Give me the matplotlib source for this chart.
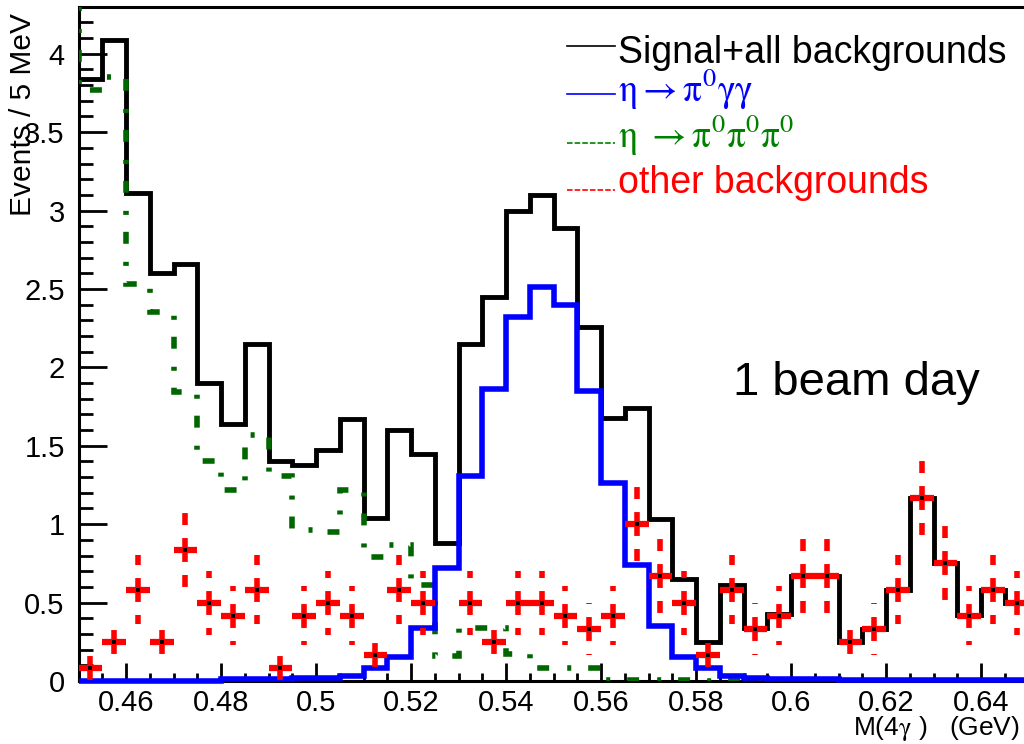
import numpy as np
import matplotlib
matplotlib.use("Agg")
import matplotlib.pyplot as plt
from matplotlib.lines import Line2D
from matplotlib.ticker import MultipleLocator, FuncFormatter

plt.rcParams['font.family'] = ['Liberation Sans', 'DejaVu Sans']
plt.rcParams['mathtext.fontset'] = 'stix'
plt.rcParams['mathtext.default'] = 'rm'
plt.rcParams['lines.scale_dashes'] = False

# --- binning: 5 MeV bins, 0.45 - 0.65 GeV ---
bin_lo = 0.45
bin_w = 0.005
n_bins = 40

# --- histogram contents (events / 5 MeV) ---
total = [3.84, 4.09, 3.11, 2.60, 2.66, 1.90, 1.64, 2.15, 1.40, 1.38,
         1.47, 1.67, 1.04, 1.60, 1.45, 0.88, 2.15, 2.45, 3.00, 3.10,
         2.89, 2.26, 1.68, 1.74, 1.03, 0.65, 0.25, 0.61, 0.34, 0.43,
         0.67, 0.67, 0.25, 0.33, 0.58, 1.17, 0.75, 0.42, 0.58, 0.50]

signal = [0.0, 0.0, 0.0, 0.0, 0.0, 0.0, 0.01, 0.01, 0.01, 0.02,
          0.02, 0.03, 0.08, 0.15, 0.34, 0.72, 1.31, 1.86, 2.32, 2.51,
          2.40, 1.85, 1.26, 0.74, 0.35, 0.15, 0.08, 0.03, 0.02, 0.01,
          0.01, 0.01, 0.005, 0.005, 0.005, 0.005, 0.005, 0.005, 0.005, 0.005]

# first entry = bin just below 0.45 (off scale)
eta3pi0 = [4.5,
           3.77, 3.85, 2.53, 2.35, 1.84, 1.40, 1.22, 1.57, 1.31, 0.96,
           0.95, 1.22, 0.79, 0.87, 0.61, 0.16, 0.34, 0.34, 0.17, 0.08,
           0.08, 0.08, 0.005, 0.005, 0.005, 0.005, 0.0, 0.0, 0.0, 0.0,
           0.0, 0.0, 0.0, 0.0, 0.0, 0.0, 0.0, 0.0, 0.0, 0.0]

other = [0.083, 0.25, 0.583, 0.25, 0.833, 0.5, 0.417, 0.583, 0.083, 0.417,
         0.5, 0.417, 0.167, 0.583, 0.5, 0.0, 0.5, 0.25, 0.5, 0.5,
         0.417, 0.333, 0.417, 1.0, 0.667, 0.5, 0.167, 0.583, 0.333, 0.417,
         0.667, 0.667, 0.25, 0.333, 0.583, 1.167, 0.75, 0.417, 0.583, 0.5]

other_err = [0.083, 0.144, 0.22, 0.144, 0.264, 0.204, 0.186, 0.22, 0.083, 0.186,
             0.204, 0.186, 0.118, 0.22, 0.204, 0.0, 0.204, 0.144, 0.204, 0.204,
             0.186, 0.167, 0.186, 0.289, 0.236, 0.204, 0.118, 0.22, 0.167, 0.186,
             0.236, 0.236, 0.144, 0.167, 0.22, 0.312, 0.25, 0.186, 0.22, 0.204]

green = '#006600'

edges = bin_lo + bin_w * np.arange(n_bins + 1)
edges_g = bin_lo - bin_w + bin_w * np.arange(n_bins + 2)
centers = edges[:-1] + bin_w / 2

fig = plt.figure(figsize=(10.24, 7.44), dpi=100)
ax = fig.add_axes([0.0767, 0.0847, 0.9277, 0.9063])

# --- histograms ---
ax.stairs(total, edges, baseline=None, color='black', lw=3.5, zorder=2, clip_on=False)
ax.stairs(eta3pi0, edges_g, baseline=None, color=green, lw=4,
          linestyle=(0, (8.6, 13, 2.9, 12.2)), zorder=3)
ax.stairs(signal, edges, baseline=None, color='blue', lw=4, zorder=4, clip_on=False)

# --- other backgrounds: points with dashed error bars ---
oth = np.array(other)
err = np.array(other_err)
m = oth > 0
x, y, e = centers[m], oth[m], err[m]
ax.vlines(x, y, y + e, colors='red', lw=4, linestyles=[(0, (8.6, 9.4))], zorder=5)
ax.vlines(x, y, y - e, colors='red', lw=4, linestyles=[(0, (8.6, 9.4))], zorder=5)
ax.hlines(y, x - bin_w / 2, x + bin_w / 2, colors='red', lw=4.5, zorder=5)
ax.plot(x, y, 's', color='black', ms=2.5, mew=0, zorder=6)

# --- axes ---
ax.set_xlim(0.45, 0.65)
ax.set_ylim(0, 4.3)
ax.xaxis.set_major_locator(MultipleLocator(0.02))
ax.xaxis.set_minor_locator(MultipleLocator(0.005))
ax.yaxis.set_major_locator(MultipleLocator(0.5))
ax.yaxis.set_minor_locator(MultipleLocator(0.1))
fmt = FuncFormatter(lambda v, p: '%g' % round(v, 3))
ax.xaxis.set_major_formatter(fmt)
ax.yaxis.set_major_formatter(fmt)

ax.tick_params(axis='both', which='both', direction='in', width=2, labelsize=21)
ax.tick_params(axis='x', which='major', length=13, pad=6)
ax.tick_params(axis='x', which='minor', length=6)
ax.tick_params(axis='y', which='major', length=20, pad=10)
ax.tick_params(axis='y', which='minor', length=10)
for s in ax.spines.values():
    s.set_linewidth(2.2)

ax.set_ylabel('Events / 5 MeV', fontsize=21.5, loc='top')
ax.yaxis.set_label_coords(-0.0584, 0.9906)
ax.yaxis.label.set_va('center')
ax.yaxis.label.set_ha('right')

ax.set_xlabel(r'M(4$\gamma$ )   (GeV)', fontsize=19)
ax.xaxis.set_label_coords(0.991, -0.080)
ax.xaxis.label.set_ha('right')
ax.xaxis.label.set_va('baseline')

fig.text(733 / 1024, 1 - 395 / 744, '1 beam day', fontsize=34, va='baseline')

# --- legend (drawn by hand, ROOT style) ---
leg_labels = ['Signal+all backgrounds', r'$\eta\rightarrow\pi^{0}\gamma\gamma$',
              r'$\eta\ \rightarrow\pi^{0}\pi^{0}\pi^{0}$', 'other backgrounds']
leg_colors = ['black', 'blue', '#008000', 'red']
leg_styles = ['-', '-', (0, (4, 1.5)), (0, (4, 1.5))]
leg_line_y = [46, 94, 143, 190]
leg_text_y = [63, 102, 148, 193]
for lab, col, ls, ly, ty in zip(leg_labels, leg_colors, leg_styles, leg_line_y, leg_text_y):
    fig.add_artist(Line2D([567 / 1024, 615 / 1024], [1 - ly / 744] * 2,
                          color=col, lw=1.2, linestyle=ls))
    fig.text(618 / 1024, 1 - ty / 744, lab, color=col, fontsize=27, va='baseline')

fig.savefig('out.png', dpi=100)
